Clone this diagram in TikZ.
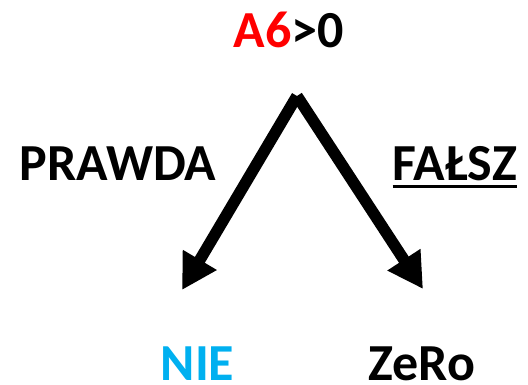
\documentclass[tikz,border=0pt]{standalone}
\usepackage{fontspec}
\setmainfont{Carlito}
\usetikzlibrary{arrows.meta}
\definecolor{nieblue}{RGB}{0,176,240}
\begin{document}
\begin{tikzpicture}[x=1pt,y=1pt,
  lbl/.style={inner sep=0pt,anchor=base,font=\fontsize{52}{52}\selectfont\bfseries},
  arr/.style={line width=11.5pt,-{Triangle[length=35pt,width=37pt]}}]
\useasboundingbox (0,0) rectangle (528,384);
\node[lbl] (cond) at (289,337) {\textcolor{red}{A6}>0};
\coordinate (apex) at (297,288);
\node[lbl] (t) at (118,204) {PRAWDA};
\node[lbl] (f) at (455,204) {FAŁSZ};
\draw[line width=3pt] ([yshift=-6pt]f.base west) -- ([yshift=-6pt]f.base east);
\coordinate (tl) at (182,94);
\coordinate (tr) at (423,95);
\draw[arr] (apex) -- (tl);
\draw[arr] (apex) -- (tr);
\node[lbl,text depth=0pt,text=nieblue] (nie) at (197.5,4) {NIE};
\node[lbl,text depth=0pt] (zero) at (422,4) {ZeRo};
\end{tikzpicture}
\end{document}
